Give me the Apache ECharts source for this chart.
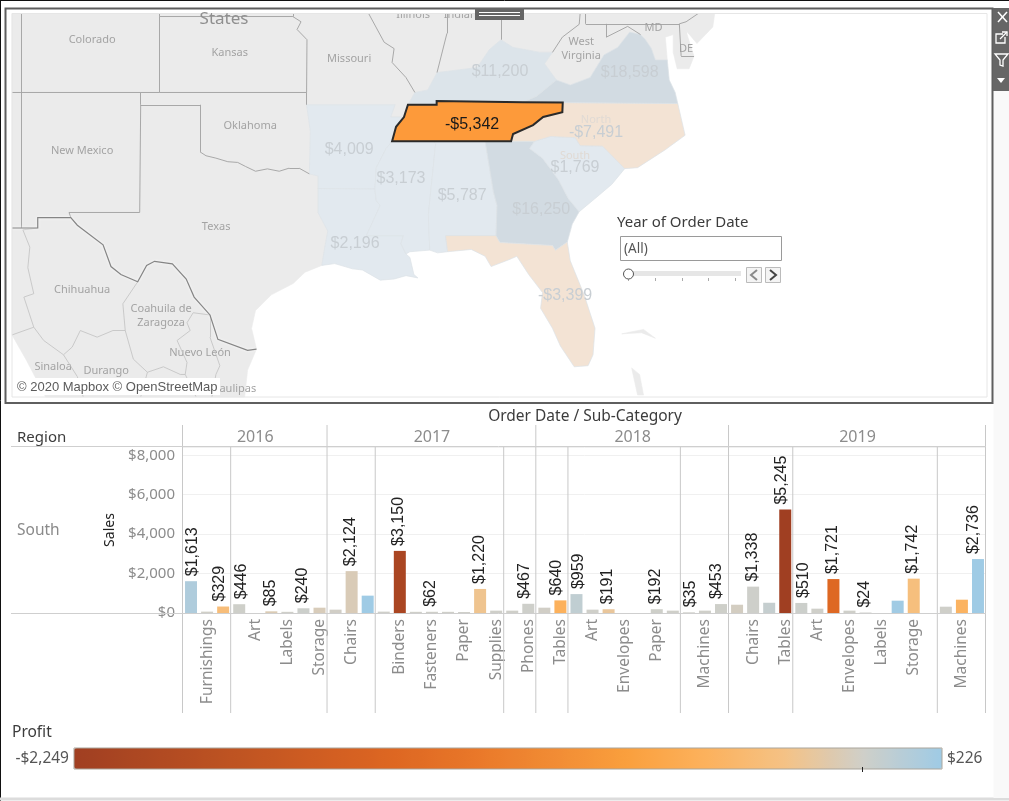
<!DOCTYPE html>
<html>
<head>
<meta charset="utf-8">
<title>Order Date / Sub-Category</title>
<script src="https://cdn.jsdelivr.net/npm/echarts@6/dist/echarts.min.js"></script>
<style>
  html, body { margin: 0; padding: 0; background: #fff; }
  #chart { width: 1009px; height: 801px; }
</style>
</head>
<body>
<div id="chart"></div>
<script>
// Sales and profit per bar slot, left to right (2016: 9 slots, 2017: 13, 2018: 12, 2019: 16)
const subCategories = [
  "", "Furnishings", "", "", "Art", "", "Labels", "", "Storage",
  "", "Chairs", "", "", "Binders", "", "Fasteners", "", "Paper", "", "Supplies", "", "Phones",
  "", "Tables", "", "Art", "", "Envelopes", "", "Paper", "", "", "Machines", "",
  "", "Chairs", "", "Tables", "", "Art", "", "Envelopes", "", "Labels", "", "Storage", "", "", "Machines", ""
];
const sales = [
  1613, 70, 329, 446, 0, 85, 60, 240, 270,
  170, 2124, 880, 70, 3150, 60, 62, 60, 50, 1220, 120, 120, 467,
  270, 640, 959, 170, 191, 0, 0, 192, 120, 35, 120, 453,
  420, 1338, 520, 5245, 510, 220, 1721, 120, 24, 0, 625, 1742, 0, 320, 675, 2736
];
const profit = [
  150, -5, -290, 5, 0, -70, 0, 15, -50,
  -10, -60, 226, 0, -2100, 0, 0, 0, 0, -190, 0, 0, 8,
  -10, -450, 70, 0, -150, 0, 0, 5, 0, 0, 0, 5,
  -25, 8, 50, -2249, 15, 0, -1320, 0, 0, 0, 215, -270, 0, 0, -420, 226
];
const labelledSlots = [0, 2, 3, 5, 7, 10, 13, 15, 18, 21, 23, 24, 26, 29, 31, 33, 35, 37, 38, 40, 42, 45, 49];

const years = ["2016", "2017", "2018", "2019"];
const yearEdges = [0, 9, 22, 34, 50];
const categoryEdges = [3, 12, 20, 24, 31, 38, 47];
const yTicks = 2000;
const profitColors = ["#a03f22", "#af4922", "#be5322", "#ce5c22", "#dd6622", "#e87628",
  "#f18a33", "#fa9f3d", "#fcb15c", "#f5c285", "#cfcfc9", "#9fcbe5"];

// State results on the map
const stateNames = ["Arkansas", "Mississippi", "Alabama", "Louisiana", "Kentucky", "Virginia",
  "North Carolina", "South Carolina", "Georgia", "Florida", "Tennessee"];
const stateProfit = [4009, 3173, 5787, 2196, 11200, 18598, -7491, 1769, 16250, -3399, -5342];
const selectedState = "Tennessee";
const mexicanStates = ["Sonora", "Chihuahua", "Sinaloa", "Durango", "Coahuila", "Zacatecas", "Nuevo Leon", "Tamaulipas"];

// Outlines in lon/lat: [name, ring, label point, label text]
const outlines = [
  ["Utah", [[-109.5, 40.14], [-109.05, 40.14], [-109.05, 37], [-109.5, 37]]],
  ["Arizona", [[-109.5, 37], [-109.05, 37], [-109.05, 31.33], [-109.5, 31.33]]],
  ["Colorado", [[-109.05, 40.14], [-102.05, 40.14], [-102.05, 40], [-102.05, 37], [-103, 37], [-109.05, 37]], [-105.45, 39.15], "Colorado"],
  ["Nebraska", [[-102.05, 40.14], [-95.31, 40.14], [-95.31, 40], [-102.05, 40]]],
  ["Kansas", [[-102.05, 40], [-95.31, 40], [-94.9, 39.8], [-95.1, 39.5], [-94.6, 39.1], [-94.62, 37], [-102.05, 37]], [-98.5, 38.62], "Kansas"],
  ["New Mexico", [[-109.05, 37], [-103, 37], [-103, 36.5], [-103.05, 32], [-106.62, 32], [-106.53, 31.78], [-108.2, 31.78], [-108.2, 31.33], [-109.05, 31.33]], [-105.96, 34.65], "New Mexico"],
  ["Oklahoma", [[-103, 37], [-102.05, 37], [-94.62, 37], [-94.62, 36.5], [-94.43, 35.4], [-94.48, 33.64], [-95, 33.88], [-95.5, 33.88], [-96, 33.75], [-96.6, 33.85], [-97.2, 33.75], [-97.7, 33.95], [-98.1, 34.12], [-98.6, 34.15], [-99.2, 34.3], [-99.7, 34.4], [-100, 34.56], [-100, 36.5], [-103, 36.5]], [-97.47, 35.68], "Oklahoma"],
  ["Texas", [[-103, 36.5], [-100, 36.5], [-100, 34.56], [-99.7, 34.4], [-99.2, 34.3], [-98.6, 34.15], [-98.1, 34.12], [-97.7, 33.95], [-97.2, 33.75], [-96.6, 33.85], [-96, 33.75], [-95.5, 33.88], [-95, 33.88], [-94.48, 33.64], [-94.04, 33.55], [-94.04, 33.02], [-94.04, 31.99], [-93.55, 31.2], [-93.7, 30.5], [-93.85, 29.7], [-94.7, 29.4], [-95.3, 28.9], [-96.4, 28.4], [-97.2, 27.7], [-97.4, 26.9], [-97.15, 25.96], [-97.6, 25.9], [-99.1, 26.4], [-99.5, 27.5], [-100.3, 28.3], [-100.7, 29.1], [-101.4, 29.77], [-102.3, 29.88], [-102.7, 29.7], [-103.15, 28.98], [-104, 29.3], [-104.5, 29.65], [-104.9, 30.6], [-106.2, 31.45], [-106.53, 31.78], [-106.62, 32], [-103.05, 32]], [-99.19, 31.41], "Texas"],
  ["Missouri", [[-95.31, 40.14], [-91.5, 40.14], [-90.7, 39], [-90.2, 38.75], [-90.3, 38.2], [-89.6, 37.6], [-89.15, 37], [-89.5, 36.5], [-89.7, 36], [-90.37, 36], [-90.15, 36.5], [-94.62, 36.5], [-94.62, 37], [-94.6, 39.1], [-95.1, 39.5], [-94.9, 39.8], [-95.31, 40]], [-92.47, 38.38], "Missouri"],
  ["Illinois", [[-91.5, 40.14], [-87.53, 40.14], [-87.53, 39.35], [-88.03, 37.8], [-88.5, 37.1], [-89.15, 37], [-89.6, 37.6], [-90.3, 38.2], [-90.2, 38.75], [-90.7, 39]], [-89.24, 40.1], "Illinois"],
  ["Indiana", [[-87.53, 40.14], [-84.8, 40.14], [-84.8, 39.1], [-85.4, 38.7], [-86, 38], [-87, 37.9], [-88.03, 37.8], [-87.53, 39.35]], [-86.7, 40.1], "Indiana"],
  ["Ohio", [[-84.8, 40.14], [-80.8, 40.14], [-80.85, 39.7], [-81.7, 39.2], [-82.2, 38.6], [-82.8, 38.6], [-84.2, 38.8], [-84.8, 39.1]]],
  ["West Virginia", [[-82, 37.5], [-81.3, 37.3], [-80.3, 37.6], [-79.6, 38.5], [-78.9, 38.8], [-78.3, 39.4], [-77.75, 39.3], [-78.4, 39.62], [-79.48, 39.2], [-79.48, 39.72], [-80.52, 39.72], [-80.52, 40.14], [-80.8, 40.14], [-80.85, 39.7], [-81.7, 39.2], [-82.2, 38.6], [-82.6, 38.15]], [-80.75, 38.78], "West\nVirginia"],
  ["Pennsylvania", [[-80.52, 40.14], [-74.8, 40.14], [-75.45, 39.8], [-75.79, 39.72], [-79.48, 39.72], [-80.52, 39.72]]],
  ["New Jersey", [[-75.45, 39.8], [-74.8, 40.14], [-74, 40.14], [-74.1, 39.6], [-74.9, 38.95], [-75.5, 39.5]]],
  ["Maryland", [[-79.48, 39.72], [-75.79, 39.72], [-75.7, 38.46], [-75.05, 38.45], [-75.3, 37.95], [-75.9, 37.95], [-76.1, 38.6], [-76.1, 39.3], [-76.5, 39.2], [-76.4, 38.3], [-77, 38.3], [-77.2, 38.75], [-77.5, 39.1], [-77.75, 39.3], [-78.4, 39.62], [-79.48, 39.2]], [-77.1, 39.6], "MD"],
  ["Delaware", [[-75.79, 39.72], [-75.45, 39.8], [-75.4, 39.3], [-75.05, 38.45], [-75.7, 38.46]], [-75.45, 38.78], "DE"],
  ["Sonora", [[-109.5, 31.33], [-109.05, 31.33], [-108.2, 31.33], [-108.95, 31.25], [-108.6, 30.5], [-108.7, 29.6], [-108.4, 28.45], [-108.9, 28.3], [-108.4, 26.95], [-109.5, 26.6]]],
  ["Chihuahua", [[-108.2, 31.33], [-108.2, 31.78], [-106.53, 31.78], [-106.2, 31.45], [-104.9, 30.6], [-104.5, 29.65], [-104, 29.3], [-103.15, 28.98], [-103.9, 28], [-103.78, 26.8], [-104.4, 26.8], [-105.2, 26.5], [-106.05, 26.8], [-106.46, 26.05], [-106.9, 25.7], [-107.9, 26.35], [-108.4, 26.95], [-108.9, 28.3], [-108.4, 28.45], [-108.7, 29.6], [-108.6, 30.5], [-108.95, 31.25]], [-105.96, 28.67], "Chihuahua"],
  ["Sinaloa", [[-109.5, 26.6], [-108.4, 26.95], [-107.9, 26.35], [-106.9, 25.7], [-106.2, 24.7], [-105.9, 23.76], [-107.8, 23.76], [-108.8, 25.5]], [-107.42, 25.2], "Sinaloa"],
  ["Durango", [[-106.9, 25.7], [-106.46, 26.05], [-106.05, 26.8], [-105.2, 26.5], [-104.4, 26.8], [-103.78, 26.8], [-103.37, 25.5], [-102.66, 24.9], [-103, 23.76], [-105.9, 23.76], [-106.2, 24.7]], [-104.74, 25], "Durango"],
  ["Coahuila", [[-103.15, 28.98], [-102.7, 29.7], [-102.3, 29.88], [-101.4, 29.77], [-100.7, 29.1], [-100.3, 28.3], [-99.5, 27.5], [-100.35, 27.6], [-100.66, 27.15], [-100.5, 26.8], [-101.16, 26.35], [-100.66, 25.35], [-100.75, 24.8], [-101, 24.8], [-101.85, 25.15], [-102.66, 24.9], [-103.37, 25.5], [-103.78, 26.8], [-103.9, 28]], [-101.97, 27.5], "Coahuila de\nZaragoza"],
  ["Zacatecas", [[-103, 23.76], [-102.66, 24.9], [-101.85, 25.15], [-101, 24.8], [-100.75, 24.8], [-100.2, 23.76]]],
  ["Nuevo Leon", [[-99.5, 27.5], [-100.35, 27.6], [-100.66, 27.15], [-100.5, 26.8], [-101.16, 26.35], [-100.66, 25.35], [-100.75, 24.8], [-100.2, 23.76], [-99.4, 23.76], [-99.2, 24.8], [-99, 25.2], [-99.5, 26.5]], [-100, 25.85], "Nuevo León"],
  ["Tamaulipas", [[-99.5, 27.5], [-99.1, 26.4], [-97.6, 25.9], [-97.15, 25.96], [-97.6, 25], [-97.75, 23.76], [-99.4, 23.76], [-99.2, 24.8], [-99, 25.2], [-99.5, 26.5]], [-98.64, 24.2], "Tamaulipas"],
  ["Andros", [[-78.2, 25.1], [-77.8, 24.8], [-77.6, 23.85], [-77.9, 23.85]]],
  ["Abaco", [[-78.7, 26.65], [-77.6, 26.85], [-77.0, 26.45], [-77.7, 26.7]]],
  ["Arkansas", [[-94.62, 36.5], [-90.15, 36.5], [-90.37, 36], [-89.7, 36], [-90.1, 35.6], [-90.3, 35], [-90.6, 34.7], [-91.1, 33.9], [-91.17, 33], [-94.04, 33.02], [-94.04, 33.55], [-94.48, 33.64], [-94.43, 35.4]], [-92.47, 34.68]],
  ["Louisiana", [[-94.04, 33.02], [-91.17, 33], [-91.1, 32.5], [-90.9, 32.3], [-91.6, 31], [-89.73, 31], [-89.85, 30.65], [-89.6, 30.2], [-89.4, 30.05], [-89.2, 29.3], [-89, 29.15], [-89.6, 29.25], [-90.2, 29.1], [-90.9, 29.05], [-91.8, 29.5], [-92.3, 29.55], [-93.2, 29.78], [-93.85, 29.7], [-93.7, 30.5], [-93.55, 31.2], [-94.04, 31.99]], [-92.17, 30.69]],
  ["Mississippi", [[-91.17, 33], [-91.1, 33.9], [-90.6, 34.7], [-90.3, 35], [-88.2, 35], [-88.1, 34.9], [-88.47, 31.9], [-88.4, 30.37], [-89.4, 30.3], [-89.6, 30.2], [-89.85, 30.65], [-89.73, 31], [-91.6, 31], [-90.9, 32.3], [-91.1, 32.5]], [-89.85, 33.5]],
  ["Alabama", [[-88.2, 35], [-85.6, 35], [-85.18, 32.87], [-85, 32.3], [-85.05, 31], [-87.6, 31], [-87.5, 30.3], [-88, 30.25], [-88.4, 30.37], [-88.47, 31.9], [-88.1, 34.9]], [-86.76, 32.78]],
  ["Georgia", [[-85.6, 35], [-83.1, 35], [-83.35, 34.7], [-82.7, 34.3], [-81.9, 33.4], [-81.4, 32.6], [-80.85, 32.03], [-81.2, 31.5], [-81.45, 30.72], [-82.05, 30.36], [-82.2, 30.57], [-84.86, 30.7], [-85.05, 31], [-85, 32.3], [-85.18, 32.87]], [-82.77, 32.18]],
  ["Florida", [[-87.6, 31], [-85.05, 31], [-84.86, 30.7], [-82.2, 30.57], [-82.05, 30.36], [-81.45, 30.72], [-81.3, 29.9], [-80.6, 28.4], [-80.05, 26.9], [-80.15, 25.7], [-80.4, 25.2], [-81.1, 25.15], [-81.8, 26.1], [-82.2, 26.9], [-82.8, 27.8], [-82.7, 28.5], [-83.4, 29.3], [-84, 30.1], [-84.4, 29.95], [-85.3, 29.65], [-85.6, 30.1], [-86.3, 30.4], [-87.5, 30.3]], [-81.56, 28.4]],
  ["South Carolina", [[-83.1, 35], [-82.3, 35.2], [-81.05, 35.15], [-80.8, 34.82], [-79.67, 34.8], [-78.55, 33.86], [-79.2, 33.2], [-79.9, 32.7], [-80.85, 32.03], [-81.4, 32.6], [-81.9, 33.4], [-82.7, 34.3], [-83.35, 34.7]], [-81.06, 34.15]],
  ["North Carolina", [[-84.29, 35], [-84.19, 35.3], [-83.18, 35.67], [-82.67, 36], [-81.7, 36.2], [-81.68, 36.59], [-75.87, 36.55], [-75.5, 35.25], [-76.5, 34.65], [-77.9, 33.9], [-78.55, 33.86], [-79.67, 34.8], [-80.8, 34.82], [-81.05, 35.15], [-82.3, 35.2], [-83.1, 35]], [-80, 35.62]],
  ["Kentucky", [[-89.5, 36.5], [-88.05, 36.5], [-88.05, 36.65], [-83.7, 36.6], [-83, 36.85], [-82, 37.5], [-82.6, 38.15], [-82.2, 38.6], [-82.8, 38.6], [-84.2, 38.8], [-84.8, 39.1], [-85.4, 38.7], [-86, 38], [-87, 37.9], [-88.03, 37.8], [-88.5, 37.1], [-89.15, 37]], [-84.85, 37.86]],
  ["Virginia", [[-83.7, 36.6], [-81.68, 36.59], [-75.87, 36.55], [-76, 37], [-76.3, 37.5], [-76.4, 38.3], [-77, 38.3], [-77.2, 38.75], [-77.5, 39.1], [-77.75, 39.3], [-78.3, 39.4], [-78.9, 38.8], [-79.6, 38.5], [-80.3, 37.6], [-81.3, 37.3], [-82, 37.5], [-83, 36.85]], [-78.3, 37.82]],
  ["Tennessee", [[-90.3, 35], [-88.2, 35], [-85.6, 35], [-84.29, 35], [-84.19, 35.3], [-83.18, 35.67], [-82.67, 36], [-81.7, 36.2], [-81.68, 36.59], [-83.7, 36.6], [-88.05, 36.65], [-88.05, 36.5], [-89.5, 36.5], [-89.7, 36], [-90.1, 35.6]], [-86.26, 35.72]]
];
const usMexicoBorder = [[-109.5, 31.33], [-108.2, 31.33], [-108.2, 31.78], [-106.53, 31.78], [-106.2, 31.45], [-104.9, 30.6], [-104.5, 29.65], [-104, 29.3], [-103.15, 28.98], [-102.7, 29.7], [-102.3, 29.88], [-101.4, 29.77], [-100.7, 29.1], [-100.3, 28.3], [-99.5, 27.5], [-99.1, 26.4], [-97.6, 25.9], [-97.15, 25.96]];

const FONT = "Noto Sans";
const NUM_FONT = "Liberation Sans";

function money(v) {
  return (v < 0 ? "-$" : "$") + Math.abs(v).toLocaleString("en-US");
}

function stateFill(name, v) {
  if (name === selectedState) return "#fd9a3a";
  if (v < 0) return "#f3e3d4";
  if (v < 7000) return "#e2e9ef";
  if (v < 12000) return "#dce4ea";
  return "#d2dbe2";
}

// An edge shared by two grey regions is a border; an edge used once is coast or frame.
function sharedEdges() {
  const seen = {};
  outlines.forEach(([name, ring]) => {
    ring.forEach((a, i) => {
      const b = ring[(i + 1) % ring.length];
      const key = [String(a), String(b)].sort().join("|");
      (seen[key] = seen[key] || { coords: [a, b], owners: [] }).owners.push(name);
    });
  });
  return Object.values(seen).filter((e) => e.owners.length === 2 &&
    !e.owners.some((n) => stateNames.includes(n)));
}
const isMexican = (n) => mexicanStates.includes(n);
const edges = sharedEdges();
const usBorders = edges.filter((e) => !e.owners.some(isMexican)).map((e) => ({ coords: e.coords }));
const mexicoBorders = edges.filter((e) => e.owners.every(isMexican)).map((e) => ({ coords: e.coords }));

// plain Mercator, north up, same scale as the source map
const PX_PER_DEG = 19.8;
const mapProjection = {
  project: ([lon, lat]) => [
    lon * PX_PER_DEG,
    -Math.log(Math.tan(Math.PI / 4 + lat * Math.PI / 360)) * PX_PER_DEG * 180 / Math.PI
  ],
  unproject: ([x, y]) => [
    x / PX_PER_DEG,
    (2 * Math.atan(Math.exp(-y * Math.PI / 180 / PX_PER_DEG)) - Math.PI / 2) * 180 / Math.PI
  ]
};

echarts.registerMap("southMap", {
  type: "FeatureCollection",
  features: outlines.map(([name, ring, cp]) => ({
    type: "Feature",
    properties: cp ? { name, cp } : { name },
    geometry: { type: "Polygon", coordinates: [ring] }
  }))
});

const nameRegions = outlines.filter((o) => o[3]).map(([name, , , text]) => ({
  name,
  label: { show: true, formatter: text }
}));
const stateRegions = stateNames.map((name, i) => {
  const sel = name === selectedState;
  let formatter = money(stateProfit[i]);
  if (name === "North Carolina") formatter = "{n|North}\n" + formatter;
  if (name === "South Carolina") formatter = "{n|South}\n" + formatter;
  return {
    name,
    itemStyle: {
      areaColor: stateFill(name, stateProfit[i]),
      borderColor: sel ? "#2a2a2a" : "#dde2e7",
      borderWidth: sel ? 2 : 0.7
    },
    label: {
      show: true,
      formatter,
      fontFamily: NUM_FONT,
      fontSize: 16,
      color: sel ? "#1a1a1a" : "#c8ced3",
      rich: { n: { fontSize: 11, color: "#e0dad4", lineHeight: 10, fontFamily: FONT } }
    }
  };
});

// Value labels stay inside their pane: pushed right at its start, left at its end
function labelNudge(slot) {
  const edges = yearEdges.concat(categoryEdges);
  if (edges.includes(slot)) return 2;
  if (edges.includes(slot + 1)) return -4;
  return -1;
}

// Chrome around the charts, in page pixels
function line(x1, y1, x2, y2, stroke, lineWidth) {
  return { type: "line", silent: true, shape: { x1, y1, x2, y2 }, style: { stroke, lineWidth: lineWidth || 1 } };
}
function box(x, y, width, height, fill, stroke, lineWidth) {
  return { type: "rect", silent: true, shape: { x, y, width, height }, style: { fill: fill || "none", stroke: stroke || "none", lineWidth: lineWidth || 1 } };
}
function label(text, x, y, fontSize, fill, extra) {
  return { type: "text", silent: true, x, y, style: Object.assign({ text, fontFamily: FONT, fontSize, fill, verticalAlign: "middle" }, extra) };
}
function poly(points, stroke, fill, lineWidth) {
  return { type: fill ? "polygon" : "polyline", silent: true, shape: { points }, style: { stroke: stroke || "none", fill: fill || "none", lineWidth: lineWidth || 1 } };
}

const chrome = [
  // white mask above the map, cuts the state names
  box(7, 9, 985, 4.5, "#fff"),
  line(0.5, 0, 0.5, 801, "#111"),
  line(0, 0.5, 1009, 0.5, "#111"),
  line(0, 799, 1009, 799, "#dcdcdc", 3),
  box(993.5, 91, 15.5, 707, "#f9f9f9"),
  box(12, 13.5, 975, 383.5, null, "#e6e6e6"),
  box(5.5, 8.5, 987, 394.5, null, "#5f5f5f", 2),
  box(475, 8, 49, 12, "#666"),
  line(479, 12.5, 520, 12.5, "#fff"),
  line(479, 15.5, 520, 15.5, "#fff"),
  // toolbar
  box(993, 8, 16, 83, "#666"),
  line(998, 12, 1007, 22, "#fff", 1.5),
  line(1007, 12, 998, 22, "#fff", 1.5),
  poly([[1003, 34], [996, 34], [996, 43], [1005, 43], [1005, 37]], "#fff", null, 1.3),
  poly([[1000, 39], [1007, 32]], "#fff", null, 1.3),
  poly([[1002, 32], [1007, 32], [1007, 36]], "#fff", null, 1.3),
  poly([[995, 54], [1008, 54], [1003, 60], [1003, 66], [1000, 65], [1000, 60]], "#fff", "#666", 1.3),
  poly([[997, 78], [1005, 78], [1001, 83]], null, "#fff"),
  // map text
  label("States", 224, 19.5, 17, "#8f8f8f", { align: "center" }),
  box(16, 378, 204, 17, "#fff"),
  label("© 2020 Mapbox © OpenStreetMap", 17, 387.5, 13, "#5b5b5b", { fontFamily: NUM_FONT }),
  // year filter
  label("Year of Order Date", 617, 222.5, 15, "#3c3c3c"),
  box(620.5, 236.5, 161, 24, "#fff", "#9a9a9a"),
  label("(All)", 624, 249.5, 13.5, "#555"),
  box(630, 271, 111, 5, "#e6e6e6"),
  line(628.5, 278, 628.5, 281, "#aaa"),
  line(655.5, 278, 655.5, 281, "#aaa"),
  line(682.5, 278, 682.5, 281, "#aaa"),
  line(708.5, 278, 708.5, 281, "#aaa"),
  line(735.5, 278, 735.5, 281, "#aaa"),
  { type: "circle", silent: true, shape: { cx: 628.5, cy: 274, r: 5 }, style: { fill: "#fff", stroke: "#555" } },
  box(746.5, 267.5, 15, 15, "#f4f4f4", "#bbb"),
  box(765.5, 267.5, 15, 15, "#f4f4f4", "#bbb"),
  poly([[757, 270], [751, 275], [757, 280]], "#8a8a8a", null, 2),
  poly([[770, 270], [776, 275], [770, 280]], "#444", null, 2),
  // table headers
  label("Order Date / Sub-Category", 585, 417, 15.5, "#3c3c3c", { align: "center" }),
  label("Region", 17, 438, 15, "#3c3c3c"),
  label("South", 17, 531, 15.5, "#8a8a8a"),
  label("Profit", 12, 733, 15.5, "#3c3c3c"),
  line(11, 446.5, 986, 446.5, "#cfcfcf"),
  line(11, 613.5, 986, 613.5, "#cfcfcf"),
  // legend outline and zero tick
  box(74, 748, 868, 21, null, "#a9a59c"),
  line(862.5, 767, 862.5, 772, "#222")
];
chrome.forEach((el) => { el.z = 100; });

const yearCenters = years.map((_, i) => (yearEdges[i] + yearEdges[i + 1]) / 2);
const HEADER_H = 288; // overlay height: y 425..713

const chart = echarts.init(document.getElementById("chart"));
chart.setOption({
  animation: false,
  backgroundColor: "#fff",
  textStyle: { fontFamily: FONT },
  graphic: { elements: chrome },
  geo: {
    map: "southMap",
    projection: mapProjection,
    boundingCoords: [[-109.5, 40.14], [-60.25, 23.76]],
    left: 12,
    top: 13,
    width: 975,
    height: 384,
    silent: true,
    roam: false,
    itemStyle: { areaColor: "#ebebeb", borderColor: "#ebebeb", borderWidth: 0.6 },
    emphasis: { disabled: true },
    label: { show: false, color: "#a3a3a3", fontFamily: FONT, fontSize: 11, lineHeight: 14, offset: [0, 1] },
    regions: nameRegions.concat(stateRegions)
  },
  grid: [
    { left: 183, top: 447, width: 803, height: 166 },
    { left: 183, top: 425, width: 803, height: HEADER_H }
  ],
  xAxis: [
    {
      type: "category",
      gridIndex: 0,
      data: subCategories,
      axisLine: { show: false },
      axisTick: { show: false },
      axisLabel: { interval: 0, rotate: 90, margin: 6, fontSize: 15.5, color: "#8c8c8c", fontFamily: FONT }
    },
    { type: "value", gridIndex: 1, min: 0, max: 50, show: false }
  ],
  yAxis: [
    {
      type: "value",
      gridIndex: 0,
      min: 0,
      max: 8420,
      interval: yTicks,
      name: "Sales",
      nameLocation: "middle",
      nameRotate: 90,
      nameGap: 66,
      nameTextStyle: { fontFamily: FONT, fontSize: 14, color: "#222" },
      axisLine: { show: false },
      axisTick: { show: false },
      axisLabel: {
        margin: 8,
        fontSize: 15,
        color: "#8c8c8c",
        fontFamily: FONT,
        formatter: (v) => (v % yTicks ? "" : money(v))
      },
      splitLine: { lineStyle: { color: "#f0f0f0" } }
    },
    { type: "value", gridIndex: 1, min: 0, max: HEADER_H, show: false }
  ],
  visualMap: {
    type: "continuous",
    seriesIndex: 0,
    dimension: 2,
    min: -2249,
    max: 226,
    orient: "horizontal",
    left: 0.5,
    top: 733,
    itemWidth: 21,
    itemHeight: 868,
    text: ["$226", "-$2,249"],
    textGap: 5,
    textStyle: { color: "#555", fontSize: 15.5, fontFamily: FONT },
    inRange: { color: profitColors },
    calculable: false
  },
  series: [
    {
      type: "bar",
      xAxisIndex: 0,
      yAxisIndex: 0,
      barWidth: 12,
      data: sales.map((v, i) => ({
        value: [i, v, profit[i]],
        // the offset turns with the label, so its second value moves it sideways
        label: { offset: [0, labelNudge(i)] }
      })),
      encode: { x: 0, y: 1 },
      label: {
        show: true,
        position: "top",
        rotate: 90,
        align: "left",
        verticalAlign: "middle",
        distance: 5,
        fontFamily: NUM_FONT,
        fontSize: 16,
        color: "#222",
        formatter: (p) => (labelledSlots.includes(p.dataIndex) ? money(sales[p.dataIndex]) : "")
      },
      silent: true
    },
    {
      type: "custom",
      xAxisIndex: 1,
      yAxisIndex: 1,
      silent: true,
      // [slot edge, line top] for every separator
      data: yearEdges.map((e) => [e, HEADER_H]).concat(categoryEdges.map((e) => [e, HEADER_H - 22])),
      renderItem: (params, api) => {
        const top = api.coord([api.value(0), api.value(1)]);
        const bottom = api.coord([api.value(0), 0]);
        return {
          type: "line",
          shape: { x1: top[0] - 0.5, y1: top[1], x2: bottom[0] - 0.5, y2: bottom[1] },
          style: { stroke: "#c8c8c8", lineWidth: 1 }
        };
      }
    },
    {
      type: "custom",
      xAxisIndex: 1,
      yAxisIndex: 1,
      silent: true,
      data: yearCenters.map((c) => [c, HEADER_H - 12]),
      renderItem: (params, api) => {
        const p = api.coord([api.value(0), api.value(1)]);
        return {
          type: "text",
          x: p[0],
          y: p[1],
          style: { text: years[params.dataIndex], fontFamily: FONT, fontSize: 16, fill: "#8c8c8c", align: "center", verticalAlign: "middle" }
        };
      }
    },
    {
      type: "lines",
      coordinateSystem: "geo",
      silent: true,
      data: usBorders,
      lineStyle: { color: "#a0a0a0", width: 0.9, opacity: 1 }
    },
    {
      type: "lines",
      coordinateSystem: "geo",
      silent: true,
      data: mexicoBorders,
      lineStyle: { color: "#c0c0c0", width: 0.8, opacity: 1 }
    },
    {
      type: "lines",
      coordinateSystem: "geo",
      polyline: true,
      silent: true,
      data: [{ coords: usMexicoBorder }],
      lineStyle: { color: "#858585", width: 1.2, opacity: 1, shadowColor: "#fff", shadowBlur: 3 }
    }
  ]
});
</script>
</body>
</html>
